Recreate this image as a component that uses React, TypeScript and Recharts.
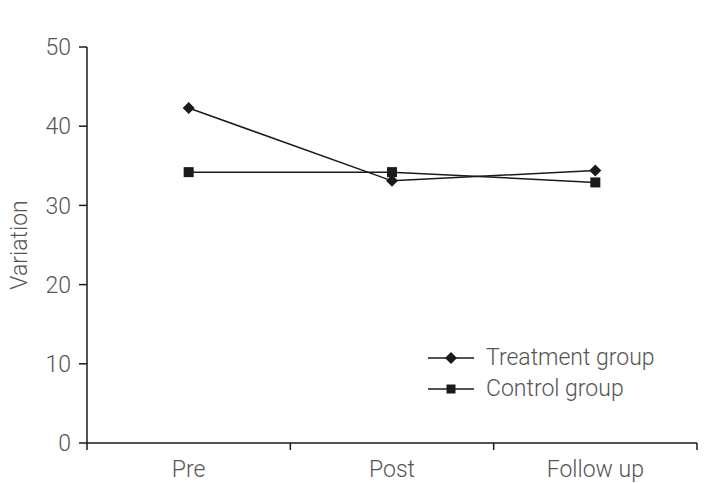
import { LineChart, Line, XAxis, YAxis } from "recharts"

const phases = ["Pre", "Post", "Follow up"]
const treatment = [42.3, 33.1, 34.4]
const control = [34.2, 34.2, 32.9]
const yTicks = [0, 10, 20, 30, 40, 50]
// band edges (integers) get tick marks, band centres get the phase labels
const xTicks = [0, 0.5, 1, 1.5, 2, 2.5, 3]
const seriesNames = ["Treatment group", "Control group"]

const data = phases.map((phase, i) => ({
  pos: i + 0.5,
  phase,
  treatment: treatment[i],
  control: control[i],
}))

const INK = "#1a1a1a"
const TEXT = "#555"
const FONT = "Roboto, 'Liberation Sans', sans-serif"
const FS = 23

const Diamond = ({ cx, cy, r = 6 }: { cx: number; cy: number; r?: number }) => (
  <polygon points={`${cx},${cy - r} ${cx + r},${cy} ${cx},${cy + r} ${cx - r},${cy}`} fill={INK} />
)

const Square = ({ cx, cy, s = 10 }: { cx: number; cy: number; s?: number }) => (
  <rect x={cx - s / 2} y={cy - s / 2} width={s} height={s} fill={INK} />
)

function PhaseTick(props: any) {
  const { x, y, payload } = props
  const v = payload.value as number
  if (Number.isInteger(v)) {
    return <line x1={x} x2={x} y1={y} y2={y + 7} stroke={INK} strokeWidth={1.5} />
  }
  return (
    <text x={x} y={y + 34} textAnchor="middle" fill={TEXT} fontSize={FS} fontFamily={FONT} fontWeight={300}>
      {phases[Math.floor(v)]}
    </text>
  )
}

// key sits inside the plot, lower right
function Key() {
  return (
    <div
      style={{
        position: "absolute",
        left: 427,
        top: 342,
        fontFamily: FONT,
        fontWeight: 300,
        fontSize: FS,
        color: TEXT,
        lineHeight: "31px",
      }}
    >
      {seriesNames.map((name, i) => (
        <div key={name} style={{ display: "flex", alignItems: "center", height: 31 }}>
          <svg width={48} height={14} style={{ marginRight: 11 }}>
            <line x1={1} x2={47} y1={7} y2={7} stroke={INK} strokeWidth={1.5} />
            {i === 0 ? <Diamond cx={24} cy={7} /> : <Square cx={24} cy={7} s={9} />}
          </svg>
          <span>{name}</span>
        </div>
      ))}
    </div>
  )
}

export default function App() {
  return (
    <div style={{ position: "absolute", left: 0, top: 0, width: 704, height: 483, background: "#fff" }}>
      <LineChart width={704} height={483} data={data} margin={{ top: 47, right: 7, bottom: 0, left: 7 }}>
        <XAxis
          type="number"
          dataKey="pos"
          domain={[0, 3]}
          ticks={xTicks}
          interval={0}
          tickSize={0}
          tickMargin={0}
          tickLine={false}
          tick={(p: any) => <PhaseTick {...p} />}
          height={40}
          stroke={INK}
          strokeWidth={1.5}
        />
        <YAxis
          domain={[0, 50]}
          ticks={yTicks}
          interval={0}
          width={80}
          tickSize={8}
          tickMargin={8}
          stroke={INK}
          strokeWidth={1.5}
          tick={{ fill: TEXT, fontSize: FS, fontFamily: FONT, fontWeight: 300 }}
          label={{
            content: ({ viewBox }: any) => {
              const cx = viewBox.x + 12
              const cy = viewBox.y + viewBox.height / 2
              return (
                <text
                  x={cx}
                  y={cy}
                  transform={`rotate(-90 ${cx} ${cy})`}
                  textAnchor="middle"
                  dominantBaseline="central"
                  fill={TEXT}
                  fontSize={FS}
                  fontFamily={FONT}
                  fontWeight={300}
                >
                  Variation
                </text>
              )
            },
          }}
        />
        <Line
          dataKey="treatment"
          name={seriesNames[0]}
          stroke={INK}
          strokeWidth={1.5}
          isAnimationActive={false}
          dot={(p: any) => <Diamond key={p.index} cx={p.cx} cy={p.cy} />}
        />
        <Line
          dataKey="control"
          name={seriesNames[1]}
          stroke={INK}
          strokeWidth={1.5}
          isAnimationActive={false}
          dot={(p: any) => <Square key={p.index} cx={p.cx} cy={p.cy} />}
        />
      </LineChart>
      <Key />
    </div>
  )
}
